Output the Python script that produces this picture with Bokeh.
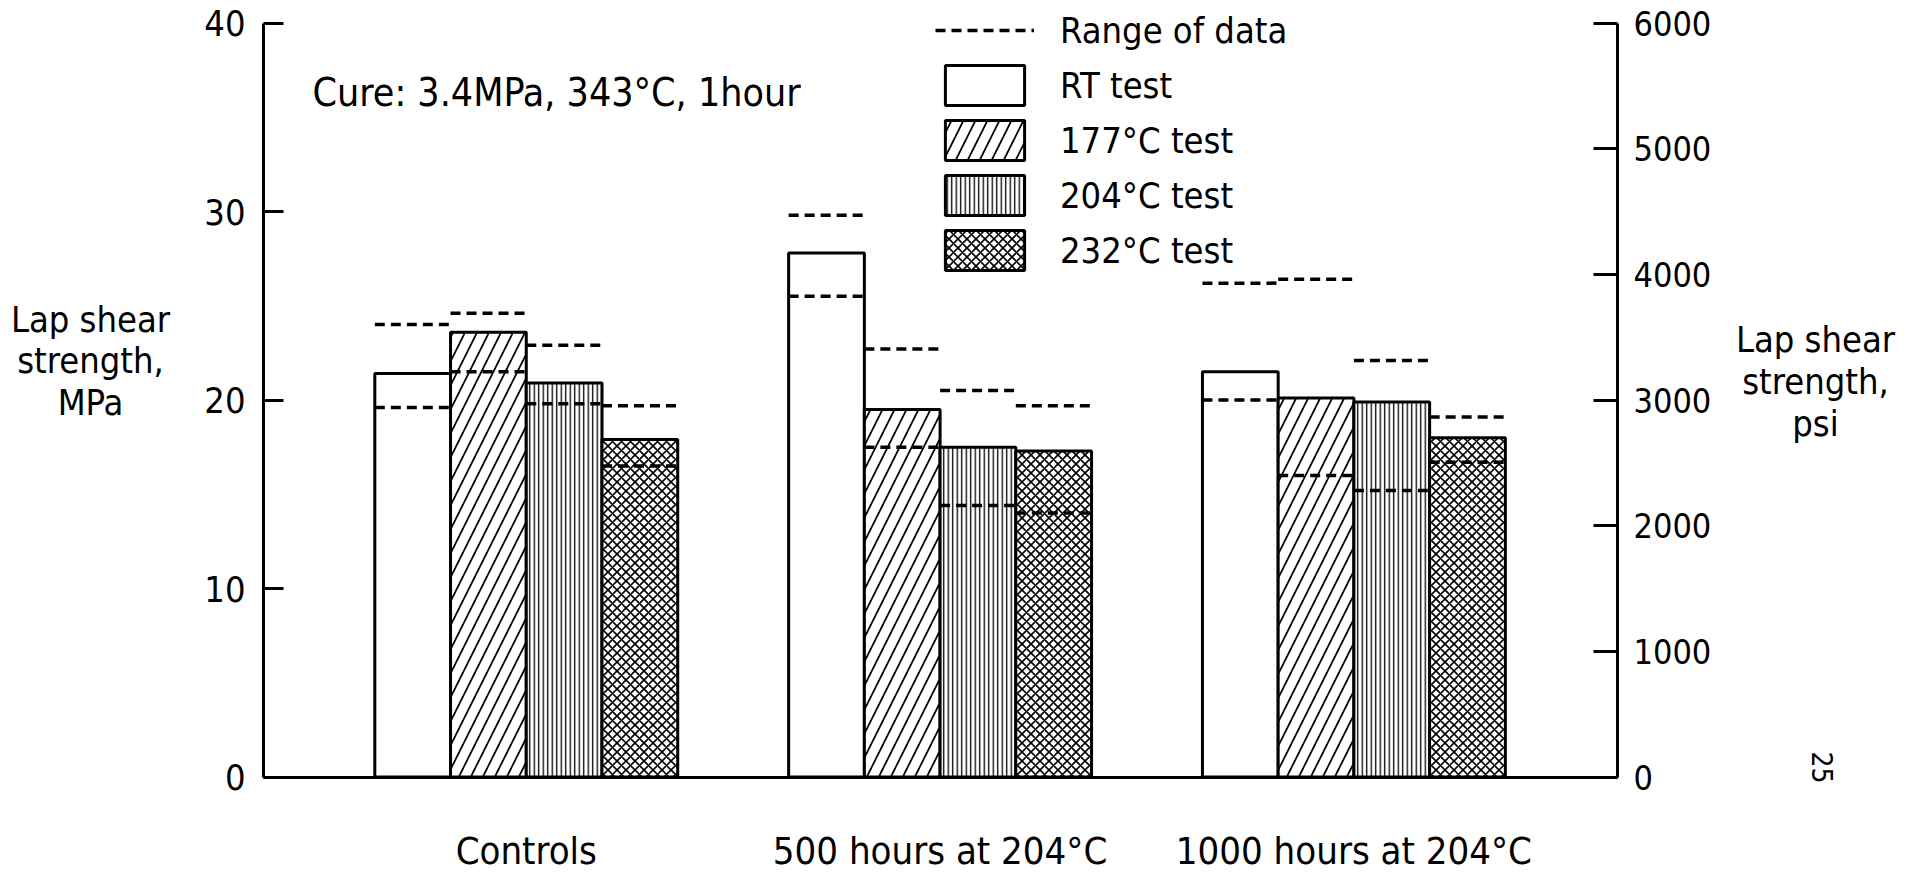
from bokeh.plotting import figure
from bokeh.models import (LinearAxis, Range1d, FixedTicker, Legend, LegendItem, Label)
from bokeh.embed import file_html
from bokeh.resources import INLINE

# ---------------- data ----------------
groups = ["Controls", "500 hours at 204°C", "1000 hours at 204°C"]
series = ["RT test", "177°C test", "204°C test", "232°C test"]

rt_mean = [21.4, 27.8, 21.5]
t177_mean = [23.6, 19.5, 20.1]
t204_mean = [20.9, 17.5, 19.9]
t232_mean = [17.9, 17.3, 18.0]

rt_hi = [24.0, 29.8, 26.2]
rt_lo = [19.6, 25.5, 20.0]
t177_hi = [24.6, 22.7, 26.4]
t177_lo = [21.5, 17.5, 16.0]
t204_hi = [22.9, 20.5, 22.1]
t204_lo = [19.8, 14.4, 15.2]
t232_hi = [19.7, 19.7, 19.1]
t232_lo = [16.5, 14.0, 16.7]

mpa_ticks = [0, 10, 20, 30, 40]
psi_ticks = [0, 1000, 2000, 3000, 4000, 5000, 6000]

# ---------------- layout constants (pixels) ----------------
W, H = 1897, 875
XL, XR = 0.365, 3.637          # data x of left / right axes
XL_PX, XR_PX = 263.0, 1617.0   # canvas px of left / right axes
Y0_PX, YT_PX = 776.5, 22.5     # canvas px (from top) of 0 and 40 MPa
MPA_TOP, PSI_TOP = 40.0, 6000.0

sx = (XR_PX - XL_PX) / (XR - XL)
x_start = XL - XL_PX / sx
x_end = XR + (W - XR_PX) / sx
b0, bt = H - Y0_PX, H - YT_PX
sy = (bt - b0) / MPA_TOP
y_start = -b0 / sy
y_end = MPA_TOP + (H - bt) / sy
k = PSI_TOP / MPA_TOP

FONT = "'Liberation Sans Narrow', 'DejaVu Sans Condensed', 'Roboto', sans-serif"

p = figure(width=W, height=H, output_backend="svg", toolbar_location=None,
           title=None, x_range=Range1d(x_start, x_end), y_range=Range1d(y_start, y_end),
           min_border=0, min_border_left=0, min_border_right=0, min_border_top=0,
           min_border_bottom=0, x_axis_type=None, y_axis_type=None)
p.outline_line_color = None
p.xgrid.visible = False
p.ygrid.visible = False
p.background_fill_color = "white"
p.border_fill_color = "white"
p.extra_y_ranges = {"psi": Range1d(y_start * k, y_end * k)}

# axes (fixed at the data positions)
xax = LinearAxis(ticker=FixedTicker(ticks=[1, 2, 3]), fixed_location=0, bounds=(XL, XR),
                 major_label_overrides={i + 1: g for i, g in enumerate(groups)})
xax.major_tick_in = 0
xax.major_tick_out = 0
xax.major_label_standoff = 52
xax.major_label_text_font_size = "38px"
p.add_layout(xax, "below")

yax = LinearAxis(ticker=FixedTicker(ticks=mpa_ticks), fixed_location=XL, bounds=(0, MPA_TOP))
yax.major_tick_in = 20
yax.major_tick_out = 0
yax.major_label_standoff = 18
yax.major_label_text_font_size = "36px"
p.add_layout(yax, "left")

rax = LinearAxis(y_range_name="psi", ticker=FixedTicker(ticks=psi_ticks),
                 fixed_location=XR, bounds=(0, PSI_TOP))
rax.major_tick_in = 24
rax.major_tick_out = 0
rax.major_label_standoff = 16
rax.major_label_text_font_size = "34px"
p.add_layout(rax, "right")

for ax in (xax, yax, rax):
    ax.minor_tick_in = 0
    ax.minor_tick_out = 0
    ax.major_label_text_font = FONT
    ax.major_label_text_color = "black"
    ax.axis_line_color = "black"
    ax.axis_line_width = 3
    ax.major_tick_line_color = "black"
    ax.major_tick_line_width = 3

# ---------------- bars ----------------
w = 0.183
offsets = [-1.5 * w, -0.5 * w, 0.5 * w, 1.5 * w]
means = [rt_mean, t177_mean, t204_mean, t232_mean]
his = [rt_hi, t177_hi, t204_hi, t232_hi]
los = [rt_lo, t177_lo, t204_lo, t232_lo]
hatches = [None, "right_diagonal_line", "vertical_line", "diagonal_cross"]
hscales = [10, 24, 4.5, 9]
hweights = [1, 1.7, 1.3, 1.6]

bar_renderers = []
xs0, xs1, ys = [], [], []
for s in range(4):
    xc = [g + 1 + offsets[s] for g in range(3)]
    kw = dict(x=xc, top=means[s], bottom=0, width=w, fill_color="white",
              line_color="black", line_width=3)
    if hatches[s]:
        kw.update(hatch_pattern=hatches[s], hatch_color="black",
                  hatch_scale=hscales[s], hatch_weight=hweights[s])
    bar_renderers.append(p.vbar(**kw))
    for i in range(3):
        for v in (his[s][i], los[s][i]):
            xs0.append(xc[i] - w / 2)
            xs1.append(xc[i] + w / 2)
            ys.append(v)

rng = p.segment(x0=xs0, y0=ys, x1=xs1, y1=ys, line_color="black",
                line_width=3.5, line_dash="10 6")

# ---------------- legend ----------------
items = [LegendItem(label="Range of data", renderers=[rng])]
for s in range(4):
    items.append(LegendItem(label=series[s], renderers=[bar_renderers[s]]))
legend = Legend(items=items, location=(935, 600), glyph_width=99, glyph_height=50,
                label_standoff=26, spacing=5, padding=0, margin=0,
                border_line_color=None, background_fill_alpha=0,
                label_text_font=FONT, label_text_font_size="36px",
                label_text_color="black", label_text_baseline="middle")
p.add_layout(legend)

# ---------------- texts ----------------
def lab(txt, x, y, size="38px", align="center", angle=0):
    p.add_layout(Label(x=x, y=y, x_units="screen", y_units="screen", text=txt,
                       text_font=FONT, text_font_size=size, text_align=align,
                       text_baseline="middle", angle=angle, text_color="black"))

lab("Cure: 3.4MPa, 343°C, 1hour", 312, 783, size="39px", align="left")
for t, yy in zip(["Lap shear", "strength,", "MPa"], [556, 515, 473]):
    lab(t, 90, yy, size="36px")
for t, yy in zip(["Lap shear", "strength,", "psi"], [536, 494, 452]):
    lab(t, 1815, yy, size="36px")
lab("25", 1822, 108, size="28px", angle=-1.5708)

open("out.html", "w").write(file_html(p, INLINE))
